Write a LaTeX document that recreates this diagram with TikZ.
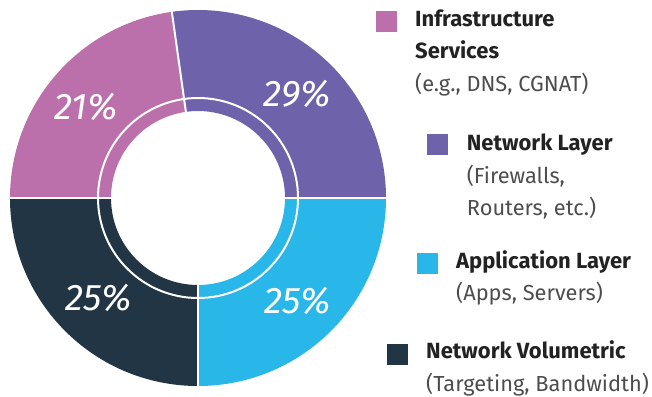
\documentclass[tikz,border=0pt]{standalone}
\usepackage{fontspec}
\setmainfont{Fira Sans}
\definecolor{infra}{HTML}{BC70AB}
\definecolor{netlayer}{HTML}{6E62AA}
\definecolor{applayer}{HTML}{29B6E8}
\definecolor{volum}{HTML}{213544}
\definecolor{titlegray}{HTML}{222222}
\definecolor{descgray}{HTML}{4D4D4D}

\begin{document}
\begin{tikzpicture}[x=1pt,y=1pt,
    pct/.style={text=white,inner sep=0pt,font=\fontsize{37}{37}\selectfont\itshape},
    swatch/.style={fill=#1,minimum size=21pt,inner sep=0pt},
    titletext/.style={anchor=base west,inner sep=0pt,text=titlegray,font=\fontsize{22}{26}\selectfont\bfseries},
    desctext/.style={anchor=base west,inner sep=0pt,text=descgray,font=\fontsize{21.8}{26}\selectfont}]
    \useasboundingbox (0,0) rectangle (652,-396);
    \begin{scope}[shift = {(198,-198)}]
    \foreach \a/\b/\col in {0/98/netlayer,98/180/infra,180/270/volum,270/360/applayer}
      \fill[\col] (\a:188) arc[start angle=\a,end angle=\b,radius=188] -- (\b:87) arc[start angle=\b,end angle=\a,radius=87] -- cycle;
    \draw[white,line width=2pt] (0,0) circle[radius=100];
    \foreach \a in {0,98,180,270}
      \draw[white,line width=2pt] (\a:86) -- (\a:190);
    \end{scope}

    \node[pct](pctInfra) at (86,-106.5) {21\%};
    \node[pct](pctNet) at (297.5,-93.5) {29\%};
    \node[pct](pctVol) at (98.5,-297.5) {25\%};
    \node[pct](pctApp) at (297.5,-301) {25\%};

    \node[swatch=infra](swInfra) at (386.5,-21.2) {};
    \node[titletext](infraTitleA) at (415,-27) {Infrastructure};
    \node[titletext](infraTitleB) at (415,-59) {Services};
    \node[desctext](infraDesc) at (415,-91) {(e.g., DNS, CGNAT)};

    \node[swatch=netlayer](swNet) at (437.5,-144.5) {};
    \node[titletext](netTitle) at (466.7,-150) {Network Layer};
    \node[desctext](netDescA) at (466.7,-183) {(Firewalls,};
    \node[desctext](netDescB) at (466.7,-215) {Routers, etc.)};

    \node[swatch=applayer](swApp) at (427.8,-263.6) {};
    \node[titletext](appTitle) at (456,-268) {Application Layer};
    \node[desctext](appDesc) at (456,-300) {(Apps, Servers)};

    \node[swatch=volum](swVol) at (397.5,-354.5) {};
    \node[titletext](volTitle) at (426,-358.3) {Network Volumetric};
    \node[desctext](volDesc) at (426,-391.7) {(Targeting, Bandwidth)};
\end{tikzpicture}
\end{document}
